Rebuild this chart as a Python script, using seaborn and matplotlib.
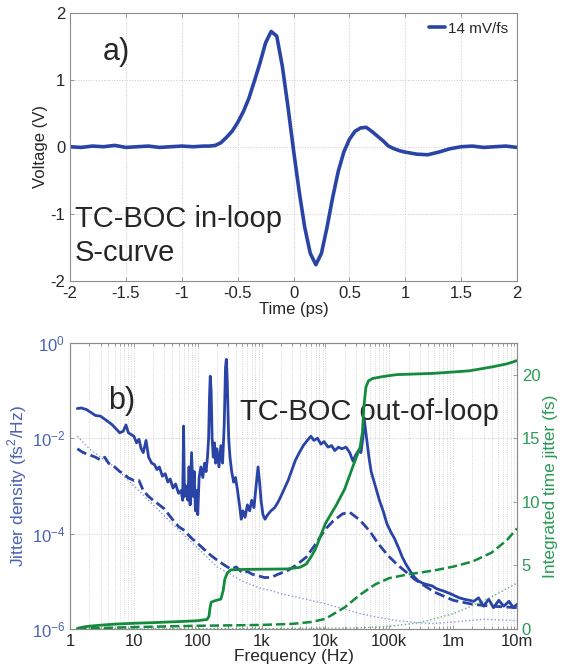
"""Recreate the TC-BOC S-curve / jitter density figure."""

import matplotlib
matplotlib.use("Agg")
import matplotlib.pyplot as plt
from matplotlib.ticker import FixedLocator, FixedFormatter, LogLocator, NullLocator, NullFormatter
import seaborn as sns


# ---- panel a) : in-loop S-curve -------------------------------------------
TIME_PS = [
    -2.0, -1.9, -1.8, -1.7, -1.6, -1.5, -1.4, -1.3, -1.2, -1.1, -1.0, -0.9, -0.8,
    -0.75, -0.7, -0.65, -0.6, -0.55, -0.5, -0.45, -0.4, -0.35, -0.3, -0.25, -0.2,
    -0.15, -0.1, -0.05, 0.0, 0.05, 0.1, 0.15, 0.2, 0.25, 0.3, 0.35, 0.4, 0.45,
    0.5, 0.55, 0.6, 0.65, 0.7, 0.75, 0.8, 0.85, 0.9, 0.95, 1.0,
    1.1, 1.2, 1.3, 1.4, 1.5, 1.6, 1.7, 1.8, 1.9, 2.0,
]
VOLTAGE_V = [
    0.0, -0.01, 0.01, 0.0, 0.02, -0.01, 0.0, 0.01, -0.01, 0.0, 0.01, 0.0, 0.01,
    0.01, 0.02, 0.06, 0.14, 0.23, 0.36, 0.52, 0.72, 0.98, 1.25, 1.55, 1.72,
    1.65, 1.2, 0.6, -0.05, -0.66, -1.2, -1.59, -1.76, -1.59, -1.2, -0.76, -0.37, -0.08,
    0.11, 0.23, 0.28, 0.29, 0.23, 0.16, 0.09, 0.01, -0.03, -0.06, -0.08,
    -0.11, -0.12, -0.08, -0.03, 0.0, 0.01, -0.01, 0.0, 0.01, -0.01,
]
LEGEND_A = "14 mV/fs"

# ---- panel b) : out-of-loop jitter spectra ---------------------------------
FREQ_OOL = [
    1.3, 1.5, 1.8, 2.1, 2.5, 3.0, 3.5, 4.0, 4.6, 5.2,
    6.0, 6.8, 7.5, 8.2, 9.0, 10, 11, 12, 13, 14,
    15.5, 17, 19, 21, 23, 25, 28, 31, 34, 37,
    41, 45, 50, 55, 58, 60, 62, 65, 70, 73,
    76, 80, 85, 88, 92, 96, 100, 105, 112, 120,
    128, 135, 142, 148, 153, 157, 162, 168, 175, 183,
    190, 200, 215, 230, 245, 260, 272, 280, 290, 305,
    320, 340, 365, 390, 420, 450, 480, 510, 550, 600,
    650, 700, 760, 820, 880, 930, 980, 1050, 1130, 1250,
    1400, 1600, 1800, 2000, 2300, 2600, 3000, 3400, 3900, 4500,
    5200, 5900, 6600, 7500, 8500, 9500, 11000, 12500, 14000, 16000,
    18000, 21000, 24000, 27000, 30000, 33000, 36000, 38500, 40500, 42500,
    45000, 48000, 52000, 57000, 63000, 70000, 80000, 92000, 105000, 120000,
    140000, 160000, 185000, 215000, 250000, 290000, 340000, 400000, 470000, 550000,
    650000, 770000, 900000, 1.05e6, 1.25e6, 1.5e6, 1.8e6, 2.1e6, 2.5e6, 3e6,
    3.6e6, 4.3e6, 5.2e6, 6.2e6, 7.5e6, 8.8e6, 1e7,
]
DENSITY_OOL = [
    4.2e-2, 4.3e-2, 4.0e-2, 3.5e-2, 3.0e-2, 2.9e-2, 2.5e-2, 2.2e-2, 1.9e-2, 1.6e-2,
    1.3e-2, 1.4e-2, 1.9e-2, 1.3e-2, 1.2e-2, 1.1e-2, 8e-3, 9.5e-3, 6e-3, 5e-3,
    9e-3, 4e-3, 3e-3, 2.8e-3, 2.2e-3, 2.5e-3, 1.6e-3, 1.8e-3, 1.2e-3, 1.4e-3,
    9e-4, 1.1e-3, 7e-4, 8e-4, 5e-4, 1.8e-2, 6e-4, 1e-3, 5e-4, 2.5e-3,
    4e-4, 5e-3, 6e-4, 2e-3, 3e-4, 8e-4, 2.5e-4, 1.5e-3, 2.5e-3, 1.5e-3,
    3e-3, 2e-3, 4e-3, 1e-2, 8e-2, 0.2, 0.1, 1e-2, 4e-3, 8e-3,
    3e-3, 6e-3, 2.5e-3, 7e-3, 3e-3, 2e-2, 0.3, 0.45, 0.15, 1e-2,
    4e-3, 2e-3, 1.2e-3, 1.5e-3, 8e-4, 4e-4, 2e-4, 3e-4, 2.2e-4, 4e-4,
    3e-4, 5e-4, 3.5e-4, 1e-3, 2.5e-3, 1.2e-3, 5e-4, 2.5e-4, 2e-4, 2.5e-4,
    3e-4, 3.5e-4, 4.5e-4, 6e-4, 9e-4, 1.3e-3, 2.2e-3, 3.5e-3, 5e-3, 7e-3,
    9e-3, 1.1e-2, 9e-3, 1e-2, 7.5e-3, 8.5e-3, 6.5e-3, 7e-3, 5.5e-3, 6.5e-3,
    6e-3, 6.5e-3, 5e-3, 3.3e-3, 4.5e-3, 5.5e-3, 5e-3, 1e-2, 2.5e-2, 1.5e-2,
    8e-3, 4e-3, 2e-3, 1.3e-3, 8e-4, 5e-4, 3e-4, 1.6e-4, 1.1e-4, 8e-5,
    5e-5, 3.2e-5, 2.2e-5, 1.6e-5, 1.2e-5, 1e-5, 9e-6, 8.5e-6, 8e-6, 7e-6,
    6.5e-6, 6e-6, 5.5e-6, 5e-6, 4.5e-6, 4.2e-6, 4e-6, 3.8e-6, 4.5e-6, 3e-6,
    4.2e-6, 2.8e-6, 4e-6, 3e-6, 3.8e-6, 2.8e-6, 3.3e-6,
]

FREQ_DASH = [
    1.3, 1.6, 2.0, 2.5, 3.0, 3.5, 4.0, 5.0, 6.0, 7.0,
    8.0, 10, 12, 14, 17, 20, 25, 30, 40, 50,
    60, 80, 100, 130, 160, 200, 260, 330, 400, 500,
    600, 720, 900, 1100, 1400, 1800, 2600, 3500, 5000, 7000,
    9800, 13000, 18600, 24000, 35000, 50000, 68000, 95000, 130000, 180000,
    250000, 500000, 1e6, 2e6, 4e6, 1e7,
]
DENSITY_DASH = [
    6e-3, 5e-3, 4.5e-3, 4e-3, 3.5e-3, 4e-3, 3e-3, 2.5e-3, 2e-3, 1.8e-3,
    1.5e-3, 1.3e-3, 1.3e-3, 8e-4, 6e-4, 5e-4, 4e-4, 3.3e-4, 2e-4, 1.4e-4,
    1.2e-4, 8e-5, 6.2e-5, 4.5e-5, 3.5e-5, 2.8e-5, 2.2e-5, 1.8e-5, 2e-5, 1.5e-5,
    1.6e-5, 1.4e-5, 1.3e-5, 1.2e-5, 1.2e-5, 1.4e-5, 1.7e-5, 2.2e-5, 3.2e-5, 6e-5,
    1.2e-4, 1.8e-4, 2.6e-4, 2.8e-4, 1.9e-4, 1.1e-4, 6e-5, 3.5e-5, 2.3e-5, 1.6e-5,
    1.1e-5, 6e-6, 4e-6, 3.3e-6, 3e-6, 2.8e-6,
]

FREQ_DOT = [
    1.3, 2, 3, 5, 10, 20, 50, 100, 200, 300,
    500, 1000, 1400, 2000, 5000, 9800, 20000, 35000, 60000, 130000,
    300000, 500000, 1e6, 3e6, 1e7,
]
DENSITY_DOT = [
    1.1e-2, 6e-3, 4e-3, 2.5e-3, 1e-3, 4e-4, 1.2e-4, 5e-5, 2e-5, 1.5e-5,
    1e-5, 7e-6, 6.4e-6, 5.5e-6, 4.2e-6, 3.4e-6, 2.6e-6, 2.1e-6, 1.8e-6, 1.5e-6,
    1.35e-6, 1.3e-6, 1.4e-6, 1.6e-6, 1.5e-6,
]

FREQ_INT = [
    1.3, 1.6, 2, 3, 5, 10, 20, 50, 100, 140,
    150, 155, 162, 180, 230, 250, 265, 290, 330, 500,
    1000, 2500, 4000, 5000, 6000, 7000, 10000, 15000, 20000, 27000,
    35000, 38000, 40000, 43000, 47000, 55000, 80000, 130000, 500000, 1.8e6,
    4e6, 7e6, 1e7,
]
JITTER_INT = [
    0.05, 0.15, 0.22, 0.3, 0.38, 0.45, 0.5, 0.58, 0.65, 0.75,
    1.0, 1.6, 2.1, 2.2, 2.35, 3.0, 3.9, 4.4, 4.65, 4.68,
    4.7, 4.72, 4.85, 5.1, 5.7, 6.3, 8.3, 9.8, 11.0, 12.8,
    14.3, 15.5, 17.5, 19.0, 19.5, 19.7, 19.85, 20.0, 20.1, 20.3,
    20.6, 20.85, 21.1,
]

FREQ_INT_DASH = [
    1.3, 10, 100, 1000, 3000, 6000, 10000, 20000, 35000, 60000,
    100000, 200000, 500000, 1e6, 2e6, 4e6, 7e6, 1e7,
]
JITTER_INT_DASH = [
    0.02, 0.15, 0.25, 0.32, 0.4, 0.55, 0.8, 1.7, 2.7, 3.5,
    4.0, 4.3, 4.6, 4.9, 5.3, 6.0, 7.0, 7.9,
]

FREQ_INT_DOT = [1.3, 1000, 30000, 100000, 300000, 1e6, 3e6, 1e7]
JITTER_INT_DOT = [0.0, 0.02, 0.08, 0.2, 0.5, 1.2, 2.2, 3.6]

FREQ_TICKS = [1, 10, 100, 1e3, 1e4, 1e5, 1e6, 1e7]
FREQ_TICK_LABELS = ["1", "10", "100", "1k", "10k", "100k", "1m", "10m"]

BLUE = "#2a44a6"
BLUE_LABEL = "#4b62b3"
GREEN = "#138a3c"
GREEN_LABEL = "#2a9a55"
GRID = "#c9c9c9"
SPINE = "#8c8c8c"


def style_axes(ax):
    for spine in ax.spines.values():
        spine.set_color(SPINE)
        spine.set_linewidth(0.8)
    ax.tick_params(direction="in", length=3, width=0.6, color=SPINE,
                   labelsize=12, top=True, right=True)


def main():
    sns.set_style("ticks")
    plt.rcParams["font.family"] = ["Liberation Sans", "DejaVu Sans"]
    plt.rcParams["axes.unicode_minus"] = False
    plt.rcParams["mathtext.fontset"] = "custom"
    plt.rcParams["mathtext.rm"] = "Liberation Sans"

    fig = plt.figure(figsize=(5.65, 6.67), dpi=100)
    ax_a = fig.add_axes([0.124, 0.579, 0.791, 0.402])
    ax_b = fig.add_axes([0.124, 0.057, 0.791, 0.429])

    # ---- panel a)
    sns.lineplot(x=TIME_PS, y=VOLTAGE_V, ax=ax_a, color=BLUE, lw=2.6,
                 estimator=None, label=LEGEND_A)
    ax_a.set_xlim(-2, 2)
    ax_a.set_ylim(-2, 2)
    ax_a.set_xticks([-2, -1.5, -1, -0.5, 0, 0.5, 1, 1.5, 2])
    ax_a.set_xticklabels(["-2", "-1.5", "-1", "-0.5", "0", "0.5", "1", "1.5", "2"])
    ax_a.set_yticks([-2, -1, 0, 1, 2])
    ax_a.grid(True, linestyle=":", color=GRID, lw=0.7)
    style_axes(ax_a)
    ax_a.set_xlabel("Time (ps)", fontsize=12, labelpad=1)
    ax_a.set_ylabel("Voltage (V)", fontsize=12, labelpad=2)
    ax_a.legend(loc="upper right", frameon=False, fontsize=11, handlelength=1.0,
                handletextpad=0.2, borderaxespad=0.2)
    ax_a.text(-1.71, 1.42, "a)", fontsize=22, va="center")
    ax_a.text(-1.96, -1.08, "TC-BOC in-loop", fontsize=21, va="center")
    ax_a.text(-1.96, -1.59, "S-curve", fontsize=21, va="center")

    # ---- panel b)
    sns.lineplot(x=FREQ_DOT, y=DENSITY_DOT, ax=ax_b, color="#8a9ad2", lw=1.0,
                 linestyle=":", estimator=None)
    sns.lineplot(x=FREQ_DASH, y=DENSITY_DASH, ax=ax_b, color=BLUE, lw=2.0,
                 linestyle="--", estimator=None)
    sns.lineplot(x=FREQ_OOL, y=DENSITY_OOL, ax=ax_b, color=BLUE, lw=2.0,
                 estimator=None)
    ax_b.set_xscale("log")
    ax_b.set_yscale("log")

    ax_r = ax_b.twinx()
    sns.lineplot(x=FREQ_INT_DOT, y=JITTER_INT_DOT, ax=ax_r, color="#5fae7a",
                 lw=1.0, linestyle=":", estimator=None)
    sns.lineplot(x=FREQ_INT_DASH, y=JITTER_INT_DASH, ax=ax_r, color=GREEN,
                 lw=1.8, linestyle="--", estimator=None)
    sns.lineplot(x=FREQ_INT, y=JITTER_INT, ax=ax_r, color=GREEN, lw=2.0,
                 estimator=None)
    ax_r.set_ylim(0, 22.5)
    ax_r.set_yticks([0, 5, 10, 15, 20])
    ax_r.set_ylabel("Integrated time jitter (fs)", fontsize=12.5,
                    color=GREEN_LABEL, labelpad=2)

    # axis formatting after the twin is built so the shared x keeps it
    ax_b.set_xlim(1, 1e7)
    ax_b.set_ylim(1e-6, 1)
    ax_b.xaxis.set_major_locator(FixedLocator(FREQ_TICKS))
    ax_b.xaxis.set_major_formatter(FixedFormatter(FREQ_TICK_LABELS))
    ax_b.xaxis.set_minor_locator(LogLocator(base=10, subs=range(2, 10), numticks=20))
    ax_b.xaxis.set_minor_formatter(NullFormatter())
    ax_b.set_yticks([1e-6, 1e-4, 1e-2, 1])
    ax_b.yaxis.set_minor_locator(NullLocator())
    ax_b.grid(True, which="major", linestyle=":", color=GRID, lw=0.7)
    ax_b.grid(True, which="minor", axis="x", linestyle=":", color=GRID, lw=0.6)
    style_axes(ax_b)
    ax_b.tick_params(axis="x", which="minor", direction="in", length=2,
                     color=SPINE, top=True)
    ax_b.tick_params(axis="y", labelcolor=BLUE_LABEL, right=False)
    ax_b.set_xlabel("Frequency (Hz)", fontsize=12.5, labelpad=0)
    ax_b.set_ylabel("Jitter density (fs$^2$/Hz)", fontsize=12.5,
                    color=BLUE_LABEL, labelpad=2)
    ax_b.text(3.9, 0.059, "b)", fontsize=22, va="center")
    ax_b.text(457, 0.036, "TC-BOC out-of-loop", fontsize=21, va="center")

    for spine in ax_r.spines.values():
        spine.set_color(SPINE)
        spine.set_linewidth(0.8)
    ax_r.tick_params(axis="y", direction="in", length=3, width=0.6, color=SPINE,
                     labelsize=12, labelcolor=GREEN_LABEL)
    ax_r.xaxis.set_major_formatter(FixedFormatter(FREQ_TICK_LABELS))

    fig.savefig("out.png", dpi=100)
    plt.close(fig)


if __name__ == "__main__":
    main()
